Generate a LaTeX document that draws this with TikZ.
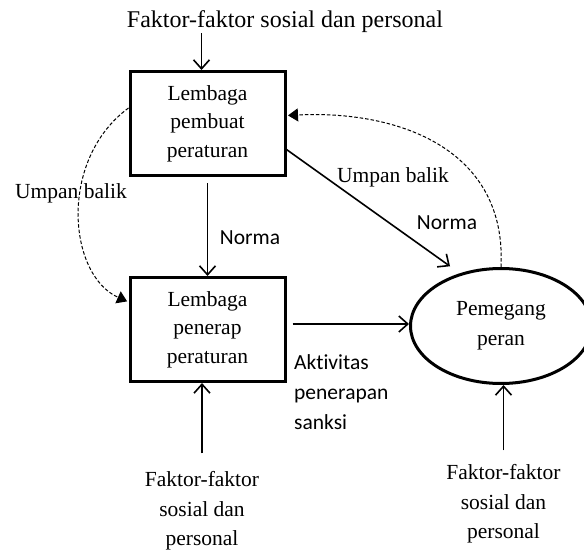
\documentclass[tikz,border=0pt]{standalone}
\usepackage{fontspec}
\setmainfont{Liberation Serif}
\newfontfamily\labelfont[Ligatures=NoCommon]{Carlito}
\usetikzlibrary{shapes.geometric,arrows.meta}

\begin{document}
\begin{tikzpicture}
[x=1pt,y=-1pt,
  boxDecorate/.style={shape=rectangle,draw,line width=3pt,minimum width=155pt,
    minimum height=104pt,align=center,font=\fontsize{21.5}{28.5}\selectfont},
  roleDecorate/.style={shape=ellipse,draw,line width=3pt,minimum width=181pt,
    minimum height=115pt,inner sep=0pt,align=center,font=\fontsize{21.5}{30}\selectfont},
  textDecorate/.style={align=center,inner sep=0pt,font=\fontsize{21.5}{29.5}\selectfont},
  labelDecorate/.style={inner sep=0pt,font=\labelfont\fontsize{21.5}{30}\selectfont},
  arrowDecorate/.style={-{Straight Barb[length=9pt,width=16pt]},line width=1.6pt},
  feedbackDecorate/.style={-{Triangle[length=10pt,width=13pt]},line width=1pt,
    dash pattern=on 3.5pt off 2pt}]
\useasboundingbox (0,0) rectangle (584,551);
%% boxes and ellipse
\node (rule) at (207.5,123.5) [boxDecorate] {Lembaga\\pembuat\\peraturan};
\node (apply) at (207.5,329.5) [boxDecorate] {Lembaga\\penerap\\peraturan};
\node (role) at (501,326) [roleDecorate] {Pemegang\\peran};
%% factor texts
\node (topFactor) at (285,22) [textDecorate,font=\fontsize{24}{28}\selectfont]
  {Faktor-faktor sosial dan personal};
\node (leftFactor) at (202,511) [textDecorate] {Faktor-faktor\\sosial dan\\personal};
\node (rightFactor) at (503.5,504) [textDecorate] {Faktor-faktor\\sosial dan\\personal};
%% labels
\foreach \nodename/\x/\y/\txt in {feedbackLeft/71/193/Umpan balik,
  feedbackRight/393/177/Umpan balik}
{
  \node (\nodename) at (\x,\y) [textDecorate] {\txt};
}
\foreach \nodename/\x/\y in {normaDown/250/238, normaDiag/447/223}
{
  \node (\nodename) at (\x,\y) [labelDecorate] {Norma};
}
\node (sanction) at (294,392) [labelDecorate,anchor=west,align=left]
  {Aktivitas\\penerapan\\sanksi};
%% arrows
\draw[arrowDecorate] ([xshift=-6pt]rule.north |- topFactor.south) -- ([xshift=-6pt]rule.north);
\draw[arrowDecorate,shorten <=6pt] (rule.south) -- (apply.north);
\draw[arrowDecorate,shorten >=12pt] ([yshift=-26pt]rule.east) -- (role.128);
\draw[arrowDecorate,shorten <=6pt] ([yshift=5.5pt]apply.east) -- ([yshift=5.5pt]apply.east -| role.west);
\draw[arrowDecorate] ([yshift=18pt]leftFactor.north) -- (leftFactor.north |- apply.south);
\draw[arrowDecorate] ([yshift=14pt]rightFactor.north) -- (rightFactor.north |- role.south);
%% feedback loops
\draw[feedbackDecorate,shorten >=1.5pt] (role.north)
  .. controls (507,150) and (400,110) .. ([yshift=8pt]rule.east);
\draw[feedbackDecorate,shorten >=1.5pt] ([yshift=15.5pt]rule.west)
  .. controls (58,160) and (68,275) .. ([yshift=27.5pt]apply.west);
\end{tikzpicture}
\end{document}
